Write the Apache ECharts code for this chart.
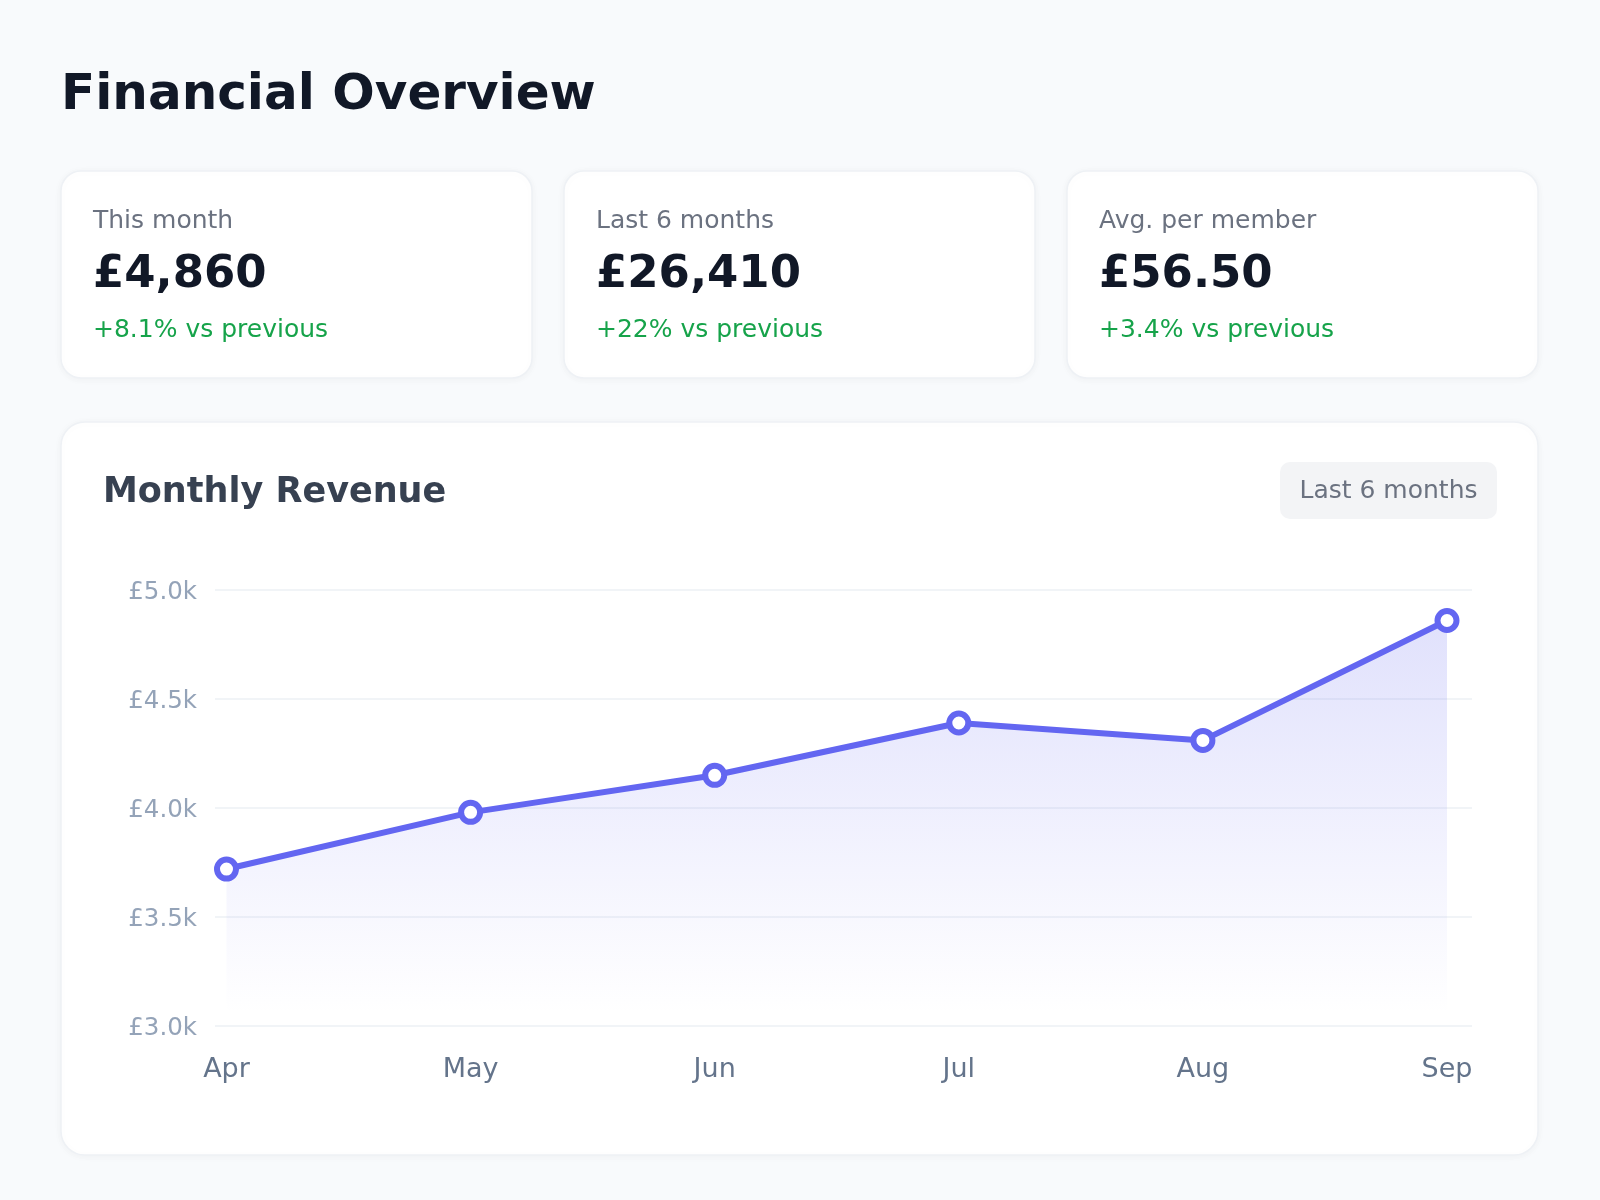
<!DOCTYPE html>
<html><head><meta charset="utf-8">
<script src="https://cdn.jsdelivr.net/npm/echarts@6/dist/echarts.min.js"></script>
<style>html,body{margin:0;padding:0;background:#f8fafc}#c{width:1600px;height:1200px}</style>
</head><body><div id="c"></div>
<script>
// ---- data ----
const months = ['Apr', 'May', 'Jun', 'Jul', 'Aug', 'Sep'];
const revenue = [3720, 3980, 4150, 4390, 4310, 4860];
const kpiLabels = ['This month', 'Last 6 months', 'Avg. per member'];
const kpiValues = ['£4,860', '£26,410', '£56.50'];
const kpiDeltas = ['+8.1% vs previous', '+22% vs previous', '+3.4% vs previous'];
const yMin = 3000, yMax = 5000, yStep = 500;
const pageTitle = 'Financial Overview';
const chartTitle = 'Monthly Revenue';
const rangeBadge = 'Last 6 months';

const FONT = "'DejaVu Sans', sans-serif";
const chart = echarts.init(document.getElementById('c'), null, {renderer: 'canvas', width: 1600, height: 1200});

function txt(x, y, text, size, color, weight, align) {
  return {type: 'text', x: x, y: y, z: 10,
    style: {text: text, font: (weight || 'normal') + ' ' + size + 'px ' + FONT, fill: color,
      align: align || 'left', verticalAlign: 'middle'}};
}

const elements = [];
elements.push(txt(61, 96, pageTitle, 50, '#111827', 'bold'));
const cardX = [61, 564, 1067];
cardX.forEach((cx, i) => {
  elements.push({type: 'rect', x: cx, y: 171, z: -10,
    shape: {width: 471, height: 207, r: 20},
    style: {fill: '#ffffff', stroke: '#eef1f5', lineWidth: 1.5,
      shadowBlur: 8, shadowColor: 'rgba(15,23,42,0.04)', shadowOffsetY: 1}});
  elements.push(txt(cx + 32, 221, kpiLabels[i], 25, '#6b7280'));
  elements.push(txt(cx + 32, 275, kpiValues[i], 45, '#111827', 'bold'));
  elements.push(txt(cx + 32, 330, kpiDeltas[i], 25, '#16a34a'));
});
elements.push({type: 'rect', x: 61, y: 422, z: -10,
  shape: {width: 1477, height: 733, r: 24},
  style: {fill: '#ffffff', stroke: '#eef1f5', lineWidth: 1.5,
    shadowBlur: 8, shadowColor: 'rgba(15,23,42,0.04)', shadowOffsetY: 1}});
elements.push(txt(103, 492.5, chartTitle, 35, '#374151', 'bold'));
elements.push({type: 'rect', x: 1280, y: 462, z: -5,
  shape: {width: 217, height: 57, r: 10}, style: {fill: '#f3f4f6'}});
elements.push(txt(1388.5, 491.5, rangeBadge, 25, '#6b7280', 'normal', 'center'));

const option = {
  backgroundColor: '#f8fafc',
  animation: false,
  textStyle: {fontFamily: FONT},
  graphic: {elements: elements},
  grid: [
    {left: 215, right: 128, top: 590, bottom: 174},
    {left: 226.5, right: 153, top: 590, bottom: 174}
  ],
  xAxis: [
    {type: 'category', gridIndex: 0, data: months, show: false},
    {type: 'category', gridIndex: 1, data: months, boundaryGap: false,
      axisLine: {show: false}, axisTick: {show: false}, splitLine: {show: false},
      axisLabel: {color: '#64748b', fontSize: 27, margin: 30, fontFamily: FONT}}
  ],
  yAxis: [
    {type: 'value', gridIndex: 0, min: yMin, max: yMax, interval: yStep,
      axisLine: {show: false}, axisTick: {show: false},
      splitLine: {lineStyle: {color: '#f1f4f7', width: 2}},
      axisLabel: {color: '#94a3b8', fontSize: 24.5, margin: 18, fontFamily: FONT,
        formatter: v => '{t|£' + (v / 1000).toFixed(1) + 'k}',
        rich: {t: {color: '#94a3b8', fontSize: 24.5, fontFamily: FONT, padding: [5, 0, 0, 0]}}}},
    {type: 'value', gridIndex: 1, min: yMin, max: yMax, interval: yStep, show: false,
      splitLine: {show: false}}
  ],
  series: [{
    type: 'line', xAxisIndex: 1, yAxisIndex: 1, data: revenue,
    symbol: 'circle', symbolSize: 19, showSymbol: true,
    lineStyle: {color: '#6366f1', width: 6},
    itemStyle: {color: '#ffffff', borderColor: '#6366f1', borderWidth: 6},
    areaStyle: {color: new echarts.graphic.LinearGradient(0, 0, 0, 1, [
      {offset: 0, color: 'rgba(99,102,241,0.28)'},
      {offset: 0.97, color: 'rgba(99,102,241,0)'}
    ])},
    z: 5
  }]
};
chart.setOption(option);
</script></body></html>
